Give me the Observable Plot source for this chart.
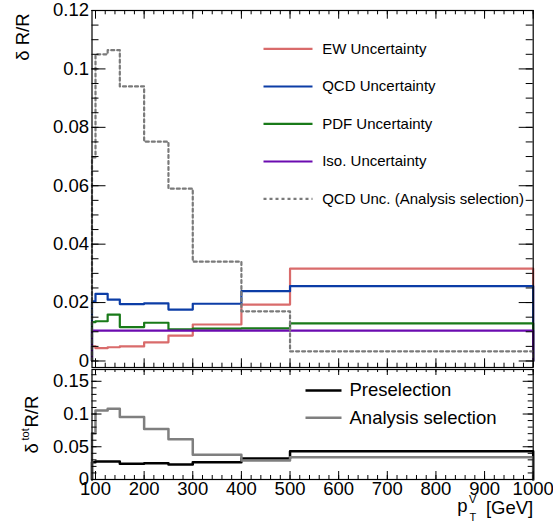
<!DOCTYPE html>
<html><head><meta charset="utf-8">
<script src="https://cdn.jsdelivr.net/npm/d3@7"></script>
<script src="https://cdn.jsdelivr.net/npm/@observablehq/plot@0.6"></script>
<style>
body{margin:0;background:#fff;}
#wrap{position:relative;width:553px;height:529px;overflow:hidden;}
#wrap svg{position:absolute;left:0;}
</style></head><body><div id="wrap"></div>
<script>
// ---- data ----
const binEdges = [92.8, 100, 125, 150, 200, 250, 300, 400, 500, 1000];
const ewUnc     = [0.0050, 0.0044, 0.0047, 0.0050, 0.0064, 0.0087, 0.0125, 0.0193, 0.0316];
const qcdUnc    = [0.0204, 0.0230, 0.0210, 0.0195, 0.0197, 0.0176, 0.0196, 0.0239, 0.0256];
const pdfUnc    = [0.0133, 0.0136, 0.0159, 0.0116, 0.0131, 0.0108, 0.0111, 0.0112, 0.0129];
const isoUnc    = [0.0104, 0.0104, 0.0104, 0.0104, 0.0104, 0.0104, 0.0104, 0.0104, 0.0104];
const qcdAnaUnc = [0.0697, 0.1050, 0.1064, 0.0940, 0.0751, 0.0590, 0.0340, 0.0170, 0.0033];
const totPresel = [0.0265, 0.0275, 0.0275, 0.0240, 0.0250, 0.0230, 0.0265, 0.0320, 0.0433];
const totAna    = [0.0708, 0.1055, 0.1080, 0.0953, 0.0770, 0.0616, 0.0378, 0.0290, 0.0340];

const mainLabels = ["EW Uncertainty", "QCD Uncertainty", "PDF Uncertainty", "Iso. Uncertainty", "QCD Unc. (Analysis selection)"];
const lowLabels = ["Preselection", "Analysis selection"];
const xTickLabels = [100, 200, 300, 400, 500, 600, 700, 800, 900, 1000];
const yMainTickLabels = [0, 0.02, 0.04, 0.06, 0.08, 0.1, 0.12];
const yLowTickLabels = [0, 0.05, 0.1, 0.15];

// ---- layout ----
const W = 553, ML = 91.5, MR = 20.3;
const H1 = 368, MT1 = 10, MB1 = 1;
const TOP2 = 368, H2 = 161, MT2 = 1, MB2 = 50;
const FW = W - ML - MR, FH1 = H1 - MT1 - MB1, FH2 = H2 - MT2 - MB2;
const FB2 = TOP2 + H2 - MB2; // bottom of ratio frame in page px
const font = "'Liberation Sans', Arial, Helvetica, sans-serif";

const xMinor = d3.range(100, 1000.1, 20);
const yMainMinor = d3.range(0, 0.12001, 0.005);
const yLowMinor = d3.range(0, 0.1601, 0.01);

function steps(vals) {
  const n = binEdges.length - 1;
  const p = [{x: binEdges[0], y: 0}];
  vals.forEach((v, i) => p.push({x: binEdges[i], y: v}));
  p.push({x: binEdges[n], y: vals[vals.length - 1]});
  p.push({x: binEdges[n], y: 0});
  return p;
}
const lineSym = (len) => ({draw(ctx) { ctx.moveTo(0, 0); ctx.lineTo(len, 0); }});

const mainSeries = [
  {vals: ewUnc, color: "#d96b6b", dash: null},
  {vals: qcdUnc, color: "#0c3da6", dash: null},
  {vals: pdfUnc, color: "#197a19", dash: null},
  {vals: isoUnc, color: "#6b0bb0", dash: null},
  {vals: qcdAnaUnc, color: "#7a7a7a", dash: "3,3"}
];
const lowSeries = [
  {vals: totPresel, color: "#000000"},
  {vals: totAna, color: "#7f7f7f"}
];

function frameTicks(fh, xMaj, xMin, yMaj, yMin, yLenMaj, yLenMin, xTopMaj, xTopMin, xBotMaj, xBotMin) {
  return [
    Plot.tickY(yMaj, {y: d => d, insetRight: FW - yLenMaj, stroke: "black"}),
    Plot.tickY(yMin, {y: d => d, insetRight: FW - yLenMin, stroke: "black"}),
    Plot.tickY(yMaj, {y: d => d, insetLeft: FW - yLenMaj, stroke: "black"}),
    Plot.tickY(yMin, {y: d => d, insetLeft: FW - yLenMin, stroke: "black"}),
    Plot.tickX(xMaj, {x: d => d, insetBottom: fh - xTopMaj, stroke: "black"}),
    Plot.tickX(xMin, {x: d => d, insetBottom: fh - xTopMin, stroke: "black"}),
    Plot.tickX(xMaj, {x: d => d, insetTop: fh - xBotMaj, stroke: "black"}),
    Plot.tickX(xMin, {x: d => d, insetTop: fh - xBotMin, stroke: "black"})
  ];
}
const txt = (s, o) => Plot.text([s], {text: d => d, lineAnchor: "middle", fill: "black", ...o});

// ---- main panel ----
const legendRowsMain = [38.3, 76, 113.3, 151, 188.3];
const mainMarks = [];
mainSeries.forEach(s => mainMarks.push(Plot.line(steps(s.vals), {
  x: "x", y: "y", curve: "step-after", stroke: s.color, strokeWidth: 2.2,
  strokeDasharray: s.dash || undefined
})));
mainLabels.forEach((lab, i) => {
  const s = mainSeries[i];
  mainMarks.push(Plot.dot([lab], {frameAnchor: "top-left", dx: 171.5, dy: legendRowsMain[i],
    symbol: lineSym(49), fill: "none", stroke: s.color, strokeWidth: 2.2,
    strokeDasharray: s.dash || undefined}));
  mainMarks.push(txt(lab, {frameAnchor: "top-left", dx: 230.2, dy: legendRowsMain[i],
    textAnchor: "start", fontSize: 15}));
});
mainMarks.push(...frameTicks(FH1, xTickLabels, xMinor, yMainTickLabels, yMainMinor, 14, 7, 8.7, 4.3, 8.7, 4.3));
mainMarks.push(Plot.frame({stroke: "black", strokeWidth: 1.2}));
mainMarks.push(txt("δ R/R", {frameAnchor: "top-left", rotate: -90, textAnchor: "end",
  dx: 23 - ML, dy: 13 - MT1, fontSize: 18.5}));

const mainPlot = Plot.plot({
  width: W, height: H1, marginLeft: ML, marginRight: MR, marginTop: MT1, marginBottom: MB1,
  x: {domain: [binEdges[0], 1000], axis: null},
  y: {domain: [-0.00223, 0.12], ticks: yMainTickLabels, tickSize: 0, tickPadding: 3, label: null,
      tickFormat: d => String(d)},
  style: {fontFamily: font, fontSize: "18.5px", background: "transparent", color: "black", overflow: "visible"},
  marks: mainMarks
});
mainPlot.style.top = "0px";

// ---- ratio panel ----
const legendRowsLow = [21, 48.3];
const lowMarks = [];
lowSeries.forEach(s => lowMarks.push(Plot.line(steps(s.vals), {
  x: "x", y: "y", curve: "step-after", stroke: s.color, strokeWidth: 2.5
})));
lowLabels.forEach((lab, i) => {
  const s = lowSeries[i];
  lowMarks.push(Plot.dot([lab], {frameAnchor: "top-left", dx: 213.5, dy: legendRowsLow[i],
    symbol: lineSym(36), fill: "none", stroke: s.color, strokeWidth: 2.5}));
  lowMarks.push(txt(lab, {frameAnchor: "top-left", dx: 257.5, dy: legendRowsLow[i],
    textAnchor: "start", fontSize: 18.5}));
});
lowMarks.push(...frameTicks(FH2, xTickLabels, xMinor, yLowTickLabels, yLowMinor, 10, 5, 6, 3, 8, 4));
lowMarks.push(Plot.frame({stroke: "black", strokeWidth: 1.2}));
// y title: δ^tot R/R
const T2 = TOP2 + MT2;
lowMarks.push(txt("δ", {frameAnchor: "top-left", rotate: -90, textAnchor: "start",
  dx: 32 - ML, dy: 453 - T2, fontSize: 18.5}));
lowMarks.push(txt("tot", {frameAnchor: "top-left", rotate: -90, textAnchor: "start",
  dx: 24.5 - ML, dy: 440 - T2, fontSize: 11}));
lowMarks.push(txt("R/R", {frameAnchor: "top-left", rotate: -90, textAnchor: "start",
  dx: 32 - ML, dy: 427 - T2, fontSize: 18.5}));
// x title: p_T^V [GeV]
lowMarks.push(txt("[GeV]", {frameAnchor: "bottom-right", textAnchor: "end",
  dx: 0, dy: 508 - FB2, fontSize: 18.5}));
lowMarks.push(txt("p", {frameAnchor: "bottom-right", textAnchor: "end",
  dx: 467 - (W - MR), dy: 506 - FB2, fontSize: 18.5}));
lowMarks.push(txt("V", {frameAnchor: "bottom-right", textAnchor: "start",
  dx: 468.5 - (W - MR), dy: 498.5 - FB2, fontSize: 11}));
lowMarks.push(txt("T", {frameAnchor: "bottom-right", textAnchor: "start",
  dx: 469 - (W - MR), dy: 516.5 - FB2, fontSize: 11}));

const lowPlot = Plot.plot({
  width: W, height: H2, marginLeft: ML, marginRight: MR, marginTop: MT2, marginBottom: MB2,
  x: {domain: [binEdges[0], 1000], ticks: xTickLabels, tickSize: 0, tickPadding: 2, label: null,
      tickFormat: d => String(d)},
  y: {domain: [0, 0.168], ticks: yLowTickLabels, tickSize: 0, tickPadding: 3, label: null,
      tickFormat: d => String(d)},
  style: {fontFamily: font, fontSize: "18.5px", background: "transparent", color: "black", overflow: "visible"},
  marks: lowMarks
});
lowPlot.style.top = TOP2 + "px";

const wrap = document.getElementById("wrap");
wrap.appendChild(mainPlot);
wrap.appendChild(lowPlot);
</script>
</body></html>
